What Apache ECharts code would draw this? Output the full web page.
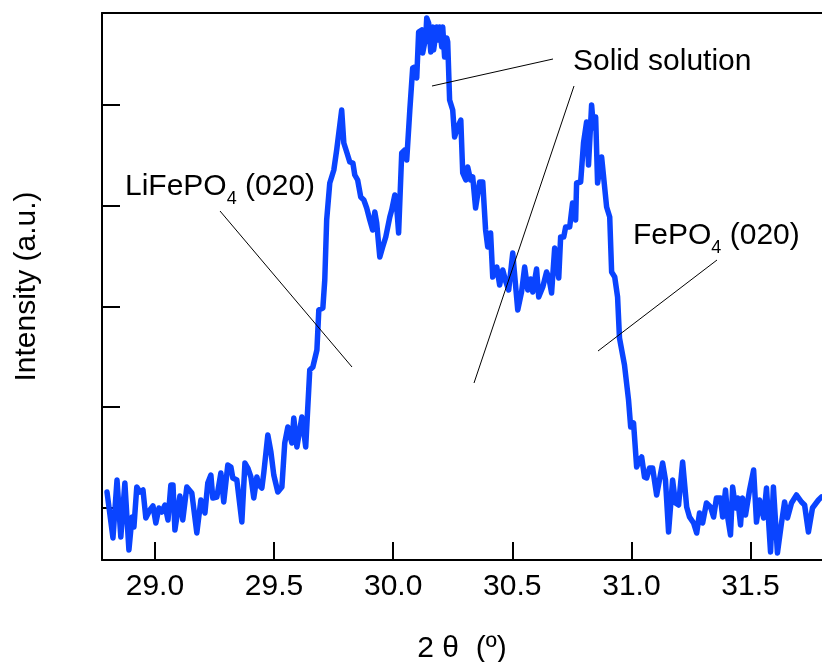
<!DOCTYPE html>
<html>
<head>
<meta charset="utf-8">
<script src="https://cdn.jsdelivr.net/npm/echarts@6/dist/echarts.min.js"></script>
<style>
html,body{margin:0;padding:0;background:#fff;}
#chart{width:822px;height:662px;}
</style>
</head>
<body>
<div id="chart"></div>
<script>
// 2θ (degrees)
const twoTheta = [
28.799,28.824,28.841,28.857,28.874,28.891,28.904,28.912,28.924,28.937,28.950,28.962,28.979,28.992,
29.004,29.017,29.029,29.042,29.055,29.067,29.076,29.084,29.105,29.117,29.134,29.155,29.176,29.193,
29.210,29.222,29.235,29.243,29.260,29.277,29.289,29.306,29.319,29.327,29.344,29.352,29.365,29.378,
29.390,29.403,29.415,29.428,29.436,29.449,29.457,29.474,29.487,29.499,29.516,29.533,29.545,29.558,
29.575,29.583,29.596,29.617,29.625,29.633,29.650,29.663,29.680,29.688,29.705,29.713,29.721,29.734,
29.742,29.751,29.763,29.784,29.793,29.805,29.818,29.831,29.839,29.851,29.864,29.877,29.889,29.902,
29.914,29.923,29.931,29.944,29.956,29.969,29.977,29.986,29.994,30.007,30.015,30.023,30.036,30.049,
30.057,30.070,30.082,30.091,30.099,30.107,30.120,30.124,30.137,30.141,30.149,30.158,30.166,30.170,
30.183,30.187,30.195,30.204,30.208,30.216,30.225,30.229,30.237,30.250,30.258,30.271,30.284,30.292,
30.305,30.313,30.325,30.334,30.346,30.363,30.376,30.388,30.397,30.409,30.418,30.435,30.447,30.460,
30.472,30.485,30.502,30.510,30.523,30.539,30.552,30.565,30.577,30.586,30.602,30.611,30.628,30.644,
30.653,30.665,30.678,30.686,30.695,30.703,30.716,30.724,30.741,30.753,30.766,30.770,30.787,30.799,
30.812,30.820,30.833,30.841,30.850,30.858,30.875,30.879,30.896,30.909,30.917,30.930,30.942,30.950,
30.971,30.988,30.997,31.009,31.022,31.034,31.043,31.055,31.064,31.076,31.089,31.106,31.114,31.131,
31.143,31.156,31.173,31.185,31.198,31.215,31.232,31.244,31.261,31.274,31.286,31.299,31.315,31.332,
31.345,31.357,31.374,31.383,31.395,31.404,31.416,31.425,31.437,31.446,31.458,31.466,31.479,31.496,
31.513,31.525,31.538,31.555,31.567,31.584,31.596,31.613,31.630,31.643,31.655,31.672,31.693,31.714,
31.727,31.743,31.760,31.785,31.798
];
// Intensity (a.u.)
const intensity = [
116,70,128,71,125,58,91,81,121,116,118,90,98,102,
85,100,96,103,88,123,123,78,112,88,121,115,75,108,
95,125,133,110,111,135,106,143,141,130,128,130,86,145,
140,131,110,131,123,120,135,173,156,133,116,121,165,181,
165,190,161,191,191,161,238,241,258,298,300,328,388,425,
431,438,458,498,465,456,446,445,433,428,411,408,400,388,
378,396,385,351,361,371,371,391,398,413,401,375,455,458,
448,498,540,541,530,576,578,555,571,590,585,556,581,558,
581,568,581,561,581,551,570,566,508,498,471,481,488,435,
428,441,428,431,400,426,426,378,361,375,331,341,323,338,
327,318,355,333,298,316,341,318,329,316,339,311,321,336,
331,315,360,345,330,371,371,381,381,405,388,425,426,465,
486,443,503,480,491,425,451,451,401,391,336,331,311,270,
243,208,181,185,141,148,151,131,130,140,140,113,115,145,
128,76,128,105,103,146,101,91,85,75,95,85,105,101,
91,110,110,91,118,91,73,121,100,110,83,110,93,118,
138,86,108,90,120,56,121,55,85,106,90,105,113,106,
103,76,100,108,111
];
const xTicks = [29.0, 29.5, 30.0, 30.5, 31.0, 31.5];
const yTicks = [100, 201, 301.5, 402, 503];

const chart = echarts.init(document.getElementById('chart'), null, {renderer: 'canvas'});
const FONT = '"Liberation Sans", Arial, Helvetica, sans-serif';
const seriesData = twoTheta.map((t, i) => [t, intensity[i]]);

const richLabel = {
  a: {fontSize: 30, fontFamily: FONT, color: '#000', lineHeight: 42},
  s: {fontSize: 18, fontFamily: FONT, color: '#000', lineHeight: 42, verticalAlign: 'bottom'}
};

chart.setOption({
  animation: false,
  backgroundColor: '#fff',
  grid: {left: 102, top: 13, right: 0, bottom: 102, containLabel: false, outerBoundsMode: 'none'},
  xAxis: [{
    type: 'value', min: 28.778, max: 31.8, position: 'bottom',
    name: '2 θ  (º)', nameLocation: 'middle', nameGap: 74,
    nameTextStyle: {fontSize: 30, fontFamily: FONT, color: '#000'},
    axisLine: {show: true, onZero: false, lineStyle: {color: '#000', width: 2}},
    axisTick: {show: true, inside: true, length: 18, customValues: xTicks, lineStyle: {color: '#000', width: 2}},
    axisLabel: {show: true, customValues: xTicks, margin: 12, fontSize: 30, fontFamily: FONT, color: '#000',
      formatter: v => Number(v).toFixed(1)},
    splitLine: {show: false}
  }, {
    type: 'value', min: 28.778, max: 31.8, position: 'top',
    axisLine: {show: true, onZero: false, lineStyle: {color: '#000', width: 2}},
    axisTick: {show: false}, axisLabel: {show: false}, splitLine: {show: false}
  }],
  yAxis: {
    type: 'value', min: 48, max: 595,
    name: 'Intensity (a.u.)', nameLocation: 'middle', nameGap: 60, nameRotate: 90,
    nameTextStyle: {fontSize: 30, fontFamily: FONT, color: '#000'},
    axisLine: {show: true, onZero: false, lineStyle: {color: '#000', width: 2}},
    axisTick: {show: true, inside: true, length: 18, customValues: yTicks, lineStyle: {color: '#000', width: 2}},
    axisLabel: {show: false},
    splitLine: {show: false}
  },
  series: [{
    type: 'line', xAxisIndex: 0, data: seriesData, showSymbol: false, symbol: 'none',
    lineStyle: {color: '#0a44ff', width: 5.5, join: 'round', cap: 'round'},
    z: 3
  }],
  graphic: [
    {type: 'text', left: 125, top: 172, z: 10,
      style: {text: '{a|LiFePO}{s|4}{a| (020)}', rich: richLabel}},
    {type: 'text', left: 633, top: 221, z: 10,
      style: {text: '{a|FePO}{s|4}{a| (020)}', rich: richLabel}},
    {type: 'text', left: 573, top: 47, z: 10,
      style: {text: '{a|Solid solution}', rich: richLabel}},
    {type: 'line', z: 10, shape: {x1: 220, y1: 211, x2: 352, y2: 367}, style: {stroke: '#000', lineWidth: 1}},
    {type: 'line', z: 10, shape: {x1: 432, y1: 86, x2: 553, y2: 59}, style: {stroke: '#000', lineWidth: 1}},
    {type: 'line', z: 10, shape: {x1: 574, y1: 86, x2: 474, y2: 383}, style: {stroke: '#000', lineWidth: 1}},
    {type: 'line', z: 10, shape: {x1: 717, y1: 260, x2: 598, y2: 351}, style: {stroke: '#000', lineWidth: 1}}
  ]
});
</script>
</body>
</html>
